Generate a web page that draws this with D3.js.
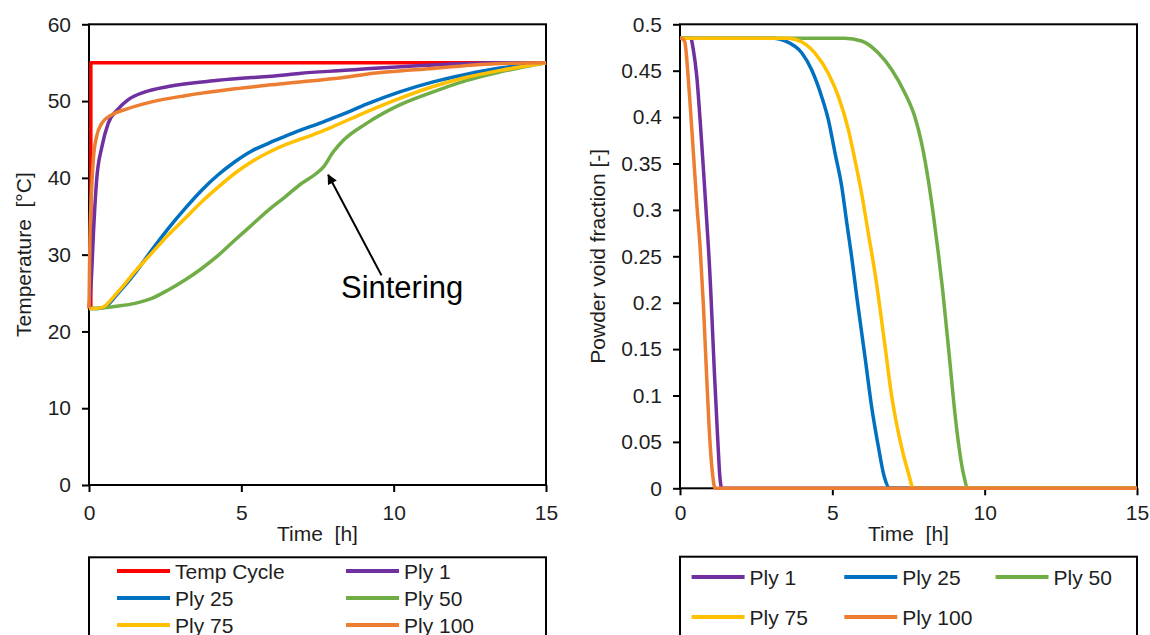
<!DOCTYPE html>
<html>
<head>
<meta charset="utf-8">
<script src="https://cdn.jsdelivr.net/npm/d3@7"></script>
<style>
  html, body { margin: 0; padding: 0; background: #fff; }
  svg { display: block; font-family: "Liberation Sans", Arial, sans-serif; }
</style>
</head>
<body>
<svg id="chart" width="1150" height="635"></svg>
<script>
// ---- Temperature history of the part (time [h], temperature [°C]) ----
const tempCycle = [[0.06, 23], [0.06, 55], [15, 55]];
const ply1Temp = [[0, 23], [0.08, 27], [0.14, 32.3], [0.25, 39.7], [0.42, 44.0], [0.63, 47.1], [0.96, 49.0], [1.29, 50.2], [1.84, 51.2], [2.6, 51.9], [4.24, 52.7], [6.43, 53.4], [6.9, 53.6], [8.4, 54.0], [9.11, 54.2], [11.3, 54.7], [13.5, 55.0], [15, 55.0]];
const ply25Temp = [[0, 23], [0.3, 23], [0.53, 23.2], [0.96, 25.0], [1.51, 27.6], [2.06, 30.6], [2.6, 33.4], [3.15, 36.0], [3.7, 38.4], [4.24, 40.4], [4.79, 42.1], [5.34, 43.5], [5.89, 44.5], [6.43, 45.4], [6.92, 46.2], [7.5, 47.0], [8.02, 47.8], [8.4, 48.4], [9.11, 49.6], [10.2, 51.2], [11.3, 52.5], [12.4, 53.5], [13.5, 54.3], [15, 55]];
const ply50Temp = [[0, 23], [0.5, 23.1], [0.96, 23.3], [1.51, 23.65], [2.06, 24.3], [2.6, 25.4], [3.15, 26.7], [3.7, 28.2], [4.24, 29.9], [4.79, 31.9], [5.34, 33.85], [5.89, 35.8], [6.43, 37.5], [6.95, 39.2], [7.47, 40.6], [7.69, 41.4], [8.02, 43.4], [8.35, 44.9], [9.11, 47.1], [10.2, 49.5], [11.3, 51.2], [12.4, 52.7], [13.5, 53.8], [15, 55]];
const ply75Temp = [[0, 23], [0.2, 23], [0.42, 23.1], [0.96, 25.2], [1.51, 27.8], [2.06, 30.2], [2.6, 32.55], [3.15, 34.7], [3.7, 36.9], [4.24, 38.8], [4.79, 40.6], [5.34, 42.1], [5.89, 43.3], [6.43, 44.3], [6.92, 45.0], [7.53, 45.9], [8.02, 46.7], [9.11, 48.6], [10.2, 50.35], [11.3, 51.9], [12.4, 53.1], [13.5, 54.0], [15, 55]];
const ply100Temp = [[0, 23], [0.03, 32], [0.09, 38.8], [0.14, 42.3], [0.25, 45.4], [0.42, 47.1], [0.74, 48.2], [1.18, 48.9], [2.06, 49.9], [3.15, 50.7], [4.79, 51.6], [6.43, 52.3], [8.4, 53.1], [9.11, 53.5], [11.3, 54.25], [13.5, 54.9], [15, 55]];

// ---- Powder void fraction (time [h], fraction [-]) ----
const ply1Void = [[0, 0.485], [0.35, 0.485], [0.44, 0.472], [0.55, 0.444], [0.66, 0.397], [0.77, 0.343], [0.88, 0.287], [0.98, 0.232], [1.02, 0.205], [1.13, 0.124], [1.24, 0.052], [1.31, 0.012], [1.37, 0], [15, 0]];
const ply25Void = [[0, 0.485], [3.1, 0.485], [3.45, 0.482], [4.0, 0.469], [4.32, 0.451], [4.65, 0.422], [4.87, 0.397], [5.09, 0.361], [5.31, 0.325], [5.47, 0.287], [5.64, 0.248], [5.8, 0.207], [6.07, 0.142], [6.29, 0.088], [6.51, 0.045], [6.7, 0.013], [6.89, 0], [15, 0]];
const ply50Void = [[0, 0.485], [5.4, 0.485], [5.96, 0.482], [6.51, 0.469], [6.95, 0.451], [7.38, 0.426], [7.71, 0.40], [7.93, 0.372], [8.15, 0.332], [8.31, 0.296], [8.48, 0.253], [8.62, 0.214], [8.84, 0.142], [9.06, 0.07], [9.3, 0.016], [9.46, 0], [15, 0]];
const ply75Void = [[0, 0.485], [3.55, 0.485], [4.0, 0.481], [4.43, 0.469], [4.87, 0.447], [5.2, 0.422], [5.53, 0.386], [5.74, 0.354], [5.96, 0.318], [6.18, 0.275], [6.4, 0.232], [6.73, 0.153], [6.95, 0.099], [7.22, 0.052], [7.5, 0.016], [7.66, 0], [15, 0]];
const ply100Void = [[0, 0.485], [0.1, 0.484], [0.16, 0.481], [0.25, 0.451], [0.33, 0.415], [0.44, 0.361], [0.55, 0.307], [0.66, 0.26], [0.77, 0.196], [0.87, 0.124], [0.98, 0.052], [1.08, 0.012], [1.15, 0], [15, 0]];

// ---- Tick labels ----
const timeTicks = [0, 5, 10, 15];
const tempTicks = [0, 10, 20, 30, 40, 50, 60];
const voidTicks = [0, 0.05, 0.1, 0.15, 0.2, 0.25, 0.3, 0.35, 0.4, 0.45, 0.5];

// ---- Series names and colours ----
const tempNames = ["Temp Cycle", "Ply 1", "Ply 25", "Ply 50", "Ply 75", "Ply 100"];
const voidNames = ["Ply 1", "Ply 25", "Ply 50", "Ply 75", "Ply 100"];
const colours = {
  "Temp Cycle": "#ff0000",
  "Ply 1": "#7030a0",
  "Ply 25": "#0070c0",
  "Ply 50": "#70ad47",
  "Ply 75": "#ffc000",
  "Ply 100": "#ed7d31"
};

// Annotation: arrow tail, arrow tip and label anchor, in data units
const sinterArrow = [[9.6, 27.3], [7.85, 40.4]];
const sinterLabel = [8.27, 24.4];

const tempSeries = [tempCycle, ply1Temp, ply25Temp, ply50Temp, ply75Temp, ply100Temp];
const voidSeries = [ply1Void, ply25Void, ply50Void, ply75Void, ply100Void];

const svg = d3.select("#chart");
const textColour = "#1e1e1e";

svg.append("defs").append("marker")
  .attr("id", "arrowHead")
  .attr("viewBox", "0 0 10 10")
  .attr("refX", 9).attr("refY", 5)
  .attr("markerWidth", 5.5).attr("markerHeight", 5)
  .attr("markerUnits", "strokeWidth")
  .attr("orient", "auto")
  .append("path").attr("d", "M0,0 L10,5 L0,10 Z").attr("fill", "#000");

function panel(opts) {
  const g = svg.append("g");
  const x = d3.scaleLinear().domain([0, 15]).range([opts.x0, opts.x1]);
  const y = d3.scaleLinear().domain(opts.yDomain).range([opts.y0, opts.y1]);

  // axes
  const ax = g.append("g").attr("transform", `translate(0,${opts.y0})`)
    .call(d3.axisBottom(x).tickValues(timeTicks).tickSize(7).tickPadding(opts.xPad).tickFormat(d3.format("d")));
  const ay = g.append("g").attr("transform", `translate(${opts.x0},0)`)
    .call(d3.axisLeft(y).tickValues(opts.yTicks).tickSize(7).tickPadding(11).tickFormat(opts.yFormat));
  [ax, ay].forEach(a => {
    a.select(".domain").remove();
    a.selectAll(".tick line").attr("stroke", "#000").attr("stroke-width", 2);
    a.selectAll(".tick text").attr("fill", textColour).style("font-size", "21px")
      .style("font-family", '"Liberation Sans", Arial, sans-serif');
  });

  // plot frame
  g.append("rect")
    .attr("x", opts.x0).attr("y", opts.y1)
    .attr("width", opts.x1 - opts.x0).attr("height", opts.y0 - opts.y1)
    .attr("fill", "none").attr("stroke", "#000").attr("stroke-width", 2);

  // series
  const line = d3.line().x(d => x(d[0])).y(d => y(d[1])).curve(d3.curveMonotoneX);
  const stepLine = d3.line().x(d => x(d[0])).y(d => y(d[1]));
  opts.series.forEach((s, i) => {
    const name = opts.names[i];
    g.append("path")
      .datum(s)
      .attr("d", name === "Temp Cycle" ? stepLine : line)
      .attr("fill", "none")
      .attr("stroke", colours[name])
      .attr("stroke-width", 3.5)
      .attr("stroke-linejoin", "round");
  });

  // axis titles
  g.append("text")
    .attr("x", (opts.x0 + opts.x1) / 2).attr("y", 541)
    .attr("text-anchor", "middle").attr("fill", textColour)
    .style("font-size", "21px")
    .attr("xml:space", "preserve").style("white-space", "pre")
    .text("Time  [h]");
  g.append("text")
    .attr("transform", `translate(${opts.titleX},${(opts.y0 + opts.y1) / 2}) rotate(-90)`)
    .attr("text-anchor", "middle").attr("dy", "0.35em").attr("fill", textColour)
    .style("font-size", "21px")
    .attr("xml:space", "preserve").style("white-space", "pre")
    .text(opts.yTitle);

  // legend (box runs past the bottom edge of the page)
  const lg = g.append("g");
  lg.append("rect")
    .attr("x", opts.x0).attr("y", opts.legendTop)
    .attr("width", opts.x1 - opts.x0).attr("height", 120)
    .attr("fill", "#fff").attr("stroke", "#000").attr("stroke-width", 2);
  opts.names.forEach((name, i) => {
    const col = i % opts.legendCols.length;
    const row = Math.floor(i / opts.legendCols.length);
    const lx = opts.legendCols[col];
    const ly = opts.legendRows[row];
    lg.append("line")
      .attr("x1", lx).attr("x2", lx + 53).attr("y1", ly).attr("y2", ly)
      .attr("stroke", colours[name]).attr("stroke-width", 4);
    lg.append("text")
      .attr("x", lx + 58).attr("y", ly).attr("dy", "0.36em")
      .attr("fill", textColour).style("font-size", "21px")
      .text(name);
  });
  return { g, x, y };
}

const left = panel({
  x0: 89, x1: 546, y0: 485, y1: 24.3,
  yDomain: [0, 60], yTicks: tempTicks, yFormat: d3.format("d"),
  xPad: 13, titleX: 24, yTitle: "Temperature  [°C]",
  series: tempSeries, names: tempNames,
  legendTop: 557.3, legendCols: [117, 346], legendRows: [571, 598, 625]
});

const right = panel({
  x0: 680, x1: 1137, y0: 488.3, y1: 24.3,
  yDomain: [0, 0.5], yTicks: voidTicks, yFormat: d => d3.format("")(+d.toFixed(2)),
  xPad: 10, titleX: 598, yTitle: "Powder void fraction [-]",
  series: voidSeries, names: voidNames,
  legendTop: 556.7, legendCols: [691.6, 844.3, 995.5], legendRows: [577, 617]
});

// Sintering annotation on the temperature panel
left.g.append("line")
  .attr("x1", left.x(sinterArrow[0][0])).attr("y1", left.y(sinterArrow[0][1]))
  .attr("x2", left.x(sinterArrow[1][0])).attr("y2", left.y(sinterArrow[1][1]))
  .attr("stroke", "#000").attr("stroke-width", 2)
  .attr("marker-end", "url(#arrowHead)");
left.g.append("text")
  .attr("x", left.x(sinterLabel[0])).attr("y", left.y(sinterLabel[1]))
  .attr("fill", "#000").style("font-size", "31px")
  .text("Sintering");
</script>
</body>
</html>
